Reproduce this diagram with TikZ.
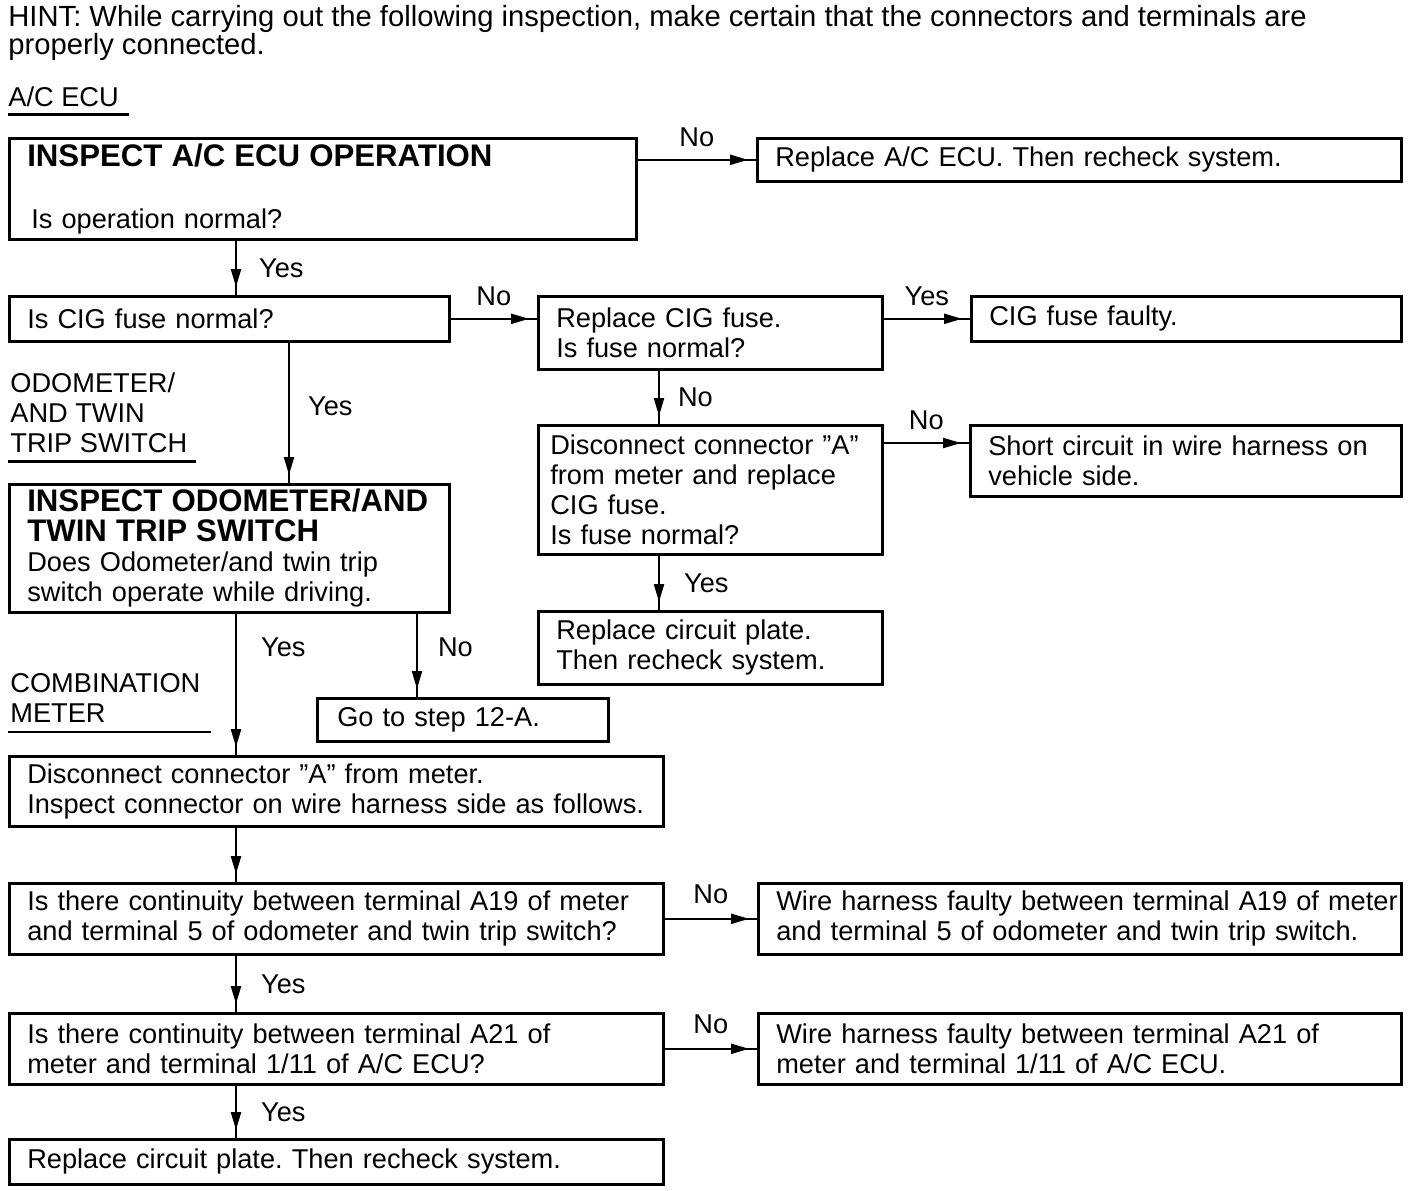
\documentclass[tikz,border=0pt]{standalone}
\usepackage{fontspec}
\setmainfont{Liberation Sans}
\usetikzlibrary{positioning,arrows.meta,decorations.markings}
\newcommand\bigtitle{\fontsize{15.6pt}{16pt}\selectfont\bfseries}
\frenchspacing

\begin{document}
\begin{tikzpicture}[x=0.5pt,y=-0.5pt,font=\fontsize{13.6pt}{15pt}\selectfont]
    \tikzstyle{box} = [draw,line width=1.3pt,anchor=north west,align=left,inner xsep=9pt,inner ysep=0pt]
    \tikzstyle{heading} = [anchor=north west,align=left,inner sep=0pt]
    \tikzstyle{answer} = [inner sep=0pt]
    \tikzstyle{underline} = [line width=1.3pt]
    \tikzstyle{flow} = [line width=1.1pt,postaction={decorate},
        decoration={markings,mark=at position -4pt with {\arrow{Triangle[length=9pt,width=5pt]}}}]
    \useasboundingbox (0,0) rectangle (1424,1190);
    % headings
    \node[heading,font=\fontsize{14.6pt}{14pt}\selectfont] (hint) at (8,5) {HINT: While carrying out the following inspection, make certain that the connectors and terminals are\\properly connected.};
    \node[heading] (ecuhead) at (8,86) {A/C ECU};
    \node[heading] (odohead) at (10,372) {ODOMETER/\\AND TWIN\\TRIP SWITCH};
    \node[heading] (meterhead) at (10,673) {COMBINATION\\METER};
    \draw[underline] ([yshift=-4pt]ecuhead.south west) -- ([xshift=5pt,yshift=-4pt]ecuhead.south east);
    \draw[underline] ([xshift=-1pt,yshift=-4.5pt]odohead.south west) -- ([xshift=4pt,yshift=-4.5pt]odohead.south east);
    \draw[underline] ([xshift=-1pt,yshift=-4.5pt]meterhead.south west) -- ([xshift=5pt,yshift=-4.5pt]meterhead.south east);
    % boxes
    \node[box,text width=295.5pt,minimum height=50.5pt] (acecu) at (8,137) {{\bigtitle INSPECT A/C ECU OPERATION}\\[16pt]\hspace*{2pt}Is operation normal?};
    \node[box,text width=304pt,minimum height=21.5pt] (replaceecu) at (756,137) {Replace A/C ECU. Then recheck system.};
    \node[box,text width=202pt,minimum height=22.5pt] (cigfuse) at (8,295) {Is CIG fuse normal?};
    \node[box,text width=154pt,minimum height=36.5pt] (replacecig) at (537,295) {Replace CIG fuse.\\Is fuse normal?};
    \node[box,text width=197pt,minimum height=22.5pt] (cigfaulty) at (970,295) {CIG fuse faulty.};
    \node[box,inner xsep=6pt,text width=160pt,minimum height=64.5pt] (disconnA) at (537,424) {Disconnect connector "A"\\from meter and replace\\CIG fuse.\\Is fuse normal?};
    \node[box,text width=197.5pt,minimum height=35.5pt] (shortckt) at (969,424) {Short circuit in wire harness on\\vehicle side.};
    \node[box,text width=154pt,minimum height=36.5pt] (replplate) at (537,610) {Replace circuit plate.\\Then recheck system.};
    \node[box,text width=202pt,minimum height=64pt] (odoinsp) at (8,483) {{\bigtitle INSPECT ODOMETER/AND\\TWIN TRIP SWITCH}\\Does Odometer/and twin trip\\switch operate while driving.};
    \node[box,inner xsep=10pt,text width=125.5pt,minimum height=21.5pt] (gostep) at (316,697) {Go to step 12-A.};
    \node[box,text width=309pt,minimum height=35pt] (disconnmeter) at (8,755) {Disconnect connector "A" from meter.\\Inspect connector on wire harness side as follows.};
    \node[box,text width=309pt,minimum height=35.5pt] (contAnineteen) at (8,882) {Is there continuity between terminal A19 of meter\\and terminal 5 of odometer and twin trip switch?};
    \node[box,text width=303.5pt,minimum height=35.5pt] (harnessAnineteen) at (757,882) {\mbox{Wire harness faulty between terminal A19 of meter}\\\mbox{and terminal 5 of odometer and twin trip switch.}};
    \node[box,text width=309pt,minimum height=35.5pt] (contAtwentyone) at (8,1012) {Is there continuity between terminal A21 of\\meter and terminal 1/11 of A/C ECU?};
    \node[box,text width=303.5pt,minimum height=35.5pt] (harnessAtwentyone) at (757,1012) {Wire harness faulty between terminal A21 of\\meter and terminal 1/11 of A/C ECU.};
    \node[box,text width=309pt,minimum height=22.5pt] (replplatetwo) at (8,1138) {Replace circuit plate. Then recheck system.};
    % columns and rows for connectors
    \coordinate (colA) at (236,0);
    \coordinate (colB) at (289,0);
    \coordinate (colC) at (659,0);
    \coordinate (colD) at (417,0);
    \coordinate (rowS) at (0,443);
    % connectors
    \draw[flow] (replaceecu.west -| acecu.east) -- node[answer,above=6pt] {No} (replaceecu.west);
    \draw[flow] (acecu.south -| colA) -- node[answer,right=11pt] {Yes} (cigfuse.north -| colA);
    \draw[flow] (cigfuse.east) -- node[answer,above=6pt] {No} (cigfuse.east -| replacecig.west);
    \draw[flow] (cigfaulty.west -| replacecig.east) -- node[answer,above=6pt] {Yes} (cigfaulty.west);
    \draw[flow] (replacecig.south -| colC) -- node[answer,right=9pt] {No} (disconnA.north -| colC);
    \draw[flow] (rowS -| disconnA.east) -- node[answer,above=6pt] {No} (rowS -| shortckt.west);
    \draw[flow] (disconnA.south -| colC) -- node[answer,right=12pt] {Yes} (replplate.north -| colC);
    \draw[flow] (cigfuse.south -| colB) -- node[answer,right=9pt,pos=0.45] {Yes} (odoinsp.north -| colB);
    \draw[flow] (odoinsp.south -| colA) -- node[answer,right=12pt,pos=0.24] {Yes} (disconnmeter.north -| colA);
    \draw[flow] (odoinsp.south -| colD) -- node[answer,right=10pt,pos=0.4] {No} (gostep.north -| colD);
    \draw[flow] (disconnmeter.south -| colA) -- (contAnineteen.north -| colA);
    \draw[flow] (contAnineteen.east) -- node[answer,above=7pt] {No} (contAnineteen.east -| harnessAnineteen.west);
    \draw[flow] (contAnineteen.south -| colA) -- node[answer,right=12pt] {Yes} (contAtwentyone.north -| colA);
    \draw[flow] (contAtwentyone.east) -- node[answer,above=7pt] {No} (contAtwentyone.east -| harnessAtwentyone.west);
    \draw[flow] (contAtwentyone.south -| colA) -- node[answer,right=12pt] {Yes} (replplatetwo.north -| colA);
\end{tikzpicture}
\end{document}
